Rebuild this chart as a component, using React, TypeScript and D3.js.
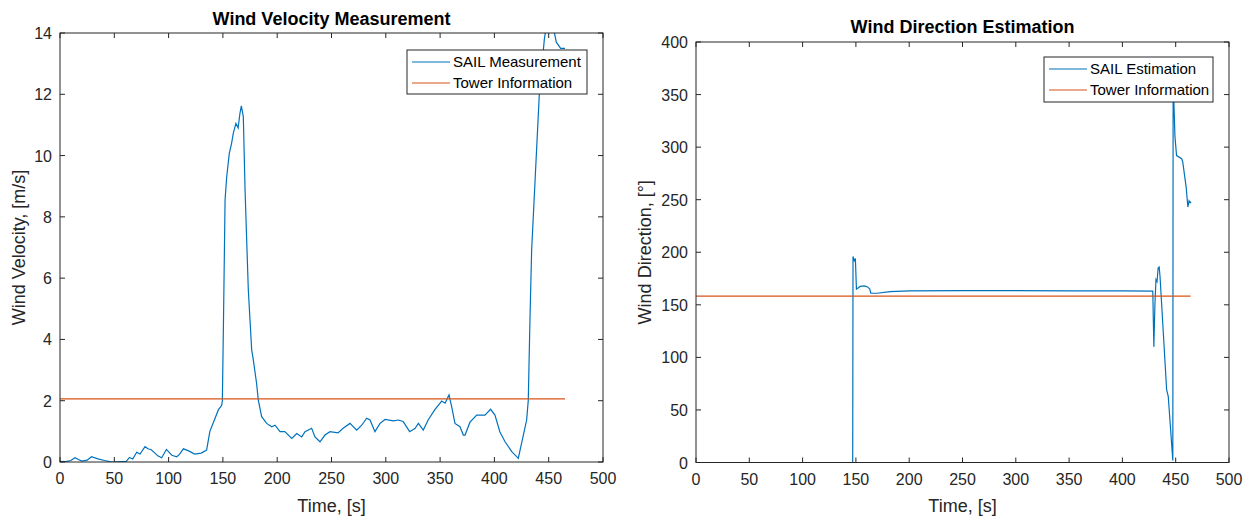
import React from 'react';
import * as d3 from 'd3';

// wind velocity
const velTime = [0, 5, 10, 13.8, 17, 20, 25, 29, 35, 41, 48, 55, 61, 64, 67, 70.6, 73.7, 78.3, 81, 84, 87.5, 90, 93.6, 98, 103, 107.5, 110, 113.6, 118, 124, 130, 135, 138, 141.6, 145.8, 148.9, 149.5, 150.5, 152, 153.5, 155.9, 158, 159.6, 162, 164, 165.7, 167, 168.8, 170.4, 173.4, 176.5, 178, 181, 182.6, 185.7, 190.3, 195, 198, 202.6, 207, 213.4, 218, 222.6, 225.6, 231.7, 234.8, 239.4, 244, 248.6, 256, 260.7, 267, 273.2, 277.8, 282.4, 285.5, 290, 294.7, 299.3, 307, 311.6, 316, 322, 327, 330, 334.5, 339, 345, 348.3, 351.5, 354.6, 358.2, 360.7, 363.7, 368.3, 371.4, 373, 377.5, 383.7, 391.3, 396.5, 400.5, 405, 409.8, 416, 422, 425, 429.7, 431.2, 432.8, 434.3, 441.4, 446, 449, 453, 457, 461, 465];
const velValue = [0.02, 0.01, 0.05, 0.14, 0.08, 0.03, 0.06, 0.17, 0.1, 0.05, 0.0, 0.01, 0.02, 0.15, 0.1, 0.32, 0.26, 0.5, 0.43, 0.4, 0.29, 0.2, 0.14, 0.41, 0.22, 0.17, 0.25, 0.43, 0.37, 0.26, 0.29, 0.39, 1.0, 1.32, 1.7, 1.85, 2.0, 4.5, 8.55, 9.31, 10.07, 10.4, 10.73, 11.05, 10.9, 11.38, 11.62, 11.27, 8.88, 5.61, 3.66, 3.33, 2.57, 2.02, 1.48, 1.26, 1.15, 1.2, 0.99, 0.99, 0.77, 0.93, 0.82, 0.99, 1.1, 0.82, 0.66, 0.88, 0.99, 0.95, 1.1, 1.26, 1.04, 1.2, 1.43, 1.37, 0.99, 1.26, 1.39, 1.34, 1.37, 1.32, 0.99, 1.1, 1.26, 1.04, 1.37, 1.7, 1.85, 1.99, 1.92, 2.19, 1.8, 1.26, 1.15, 0.88, 0.88, 1.3, 1.53, 1.53, 1.72, 1.53, 0.99, 0.66, 0.34, 0.12, 0.61, 1.37, 2.02, 4.74, 6.92, 12.03, 13.8, 14.5, 14.4, 13.7, 13.5, 13.5];
const towerVelTime = [0, 465];
const towerVelValue = [2.06, 2.06];

// wind direction
const dirTime = [0, 147, 147.3, 148.5, 149.5, 150.5, 152, 154, 158, 161, 163, 164, 170, 182, 200, 250, 300, 350, 400, 428.5, 429.5, 430.5, 431.5, 432.5, 433.5, 434.5, 435.3, 438.4, 441.5, 443, 447.3, 447.6, 449.3, 450.8, 455.6, 456.6, 459.8, 461.4, 462.5, 463.5, 464.5];
const dirValue = [0, 0, 196, 192, 194, 165, 166, 167.5, 168, 167, 165, 161, 161, 162.5, 163.3, 163.5, 163.5, 163.3, 163.2, 163, 110, 150, 174, 172, 185, 186, 177, 123, 69, 63, 2, 365, 310, 292, 289, 286, 262, 243, 249, 247, 248];
const towerDirTime = [0, 464];
const towerDirValue = [158.3, 158.3];

const timeTicks = [0, 50, 100, 150, 200, 250, 300, 350, 400, 450, 500];
const velTicks = [0, 2, 4, 6, 8, 10, 12, 14];
const dirTicks = [0, 50, 100, 150, 200, 250, 300, 350, 400];

const BLUE = '#0072BD';
const ORANGE = '#D95319';
const INK = '#262626';
const FONT = '"Liberation Sans", Arial, Helvetica, sans-serif';

type PanelProps = {
  id: string;
  box: { left: number; top: number; right: number; bottom: number };
  yMax: number;
  yTicks: number[];
  title: string;
  titleY: number;
  yLabel: string;
  yLabelX: number;
  series: { x: number[]; y: number[] };
  tower: { x: number[]; y: number[] };
  legend: { x: number; y: number; w: number; h: number; names: string[] };
};

const Panel = ({ id, box, yMax, yTicks, title, titleY, yLabel, yLabelX, series, tower, legend }: PanelProps) => {
  const x = d3.scaleLinear().domain([0, 500]).range([box.left, box.right]);
  const y = d3.scaleLinear().domain([0, yMax]).range([box.bottom, box.top]);
  const path = (xs: number[], ys: number[]) =>
    d3
      .line<number>()
      .x((_, i) => x(xs[i]))
      .y((_, i) => y(ys[i]))(ys) || '';
  const cx = (box.left + box.right) / 2;
  const cy = (box.top + box.bottom) / 2;
  const tl = 5;

  return (
    <g>
      <defs>
        <clipPath id={id}>
          <rect x={box.left} y={box.top} width={box.right - box.left} height={box.bottom - box.top} />
        </clipPath>
      </defs>

      <g clipPath={`url(#${id})`} fill="none" strokeWidth={1.2}>
        <path d={path(series.x, series.y)} stroke={BLUE} />
        <path d={path(tower.x, tower.y)} stroke={ORANGE} />
      </g>

      {/* box with inward ticks on all four sides */}
      <rect x={box.left} y={box.top} width={box.right - box.left} height={box.bottom - box.top}
        fill="none" stroke={INK} strokeWidth={1} />
      {timeTicks.map((t) => (
        <g key={'x' + t}>
          <line x1={x(t)} x2={x(t)} y1={box.bottom} y2={box.bottom - tl} stroke={INK} />
          <line x1={x(t)} x2={x(t)} y1={box.top} y2={box.top + tl} stroke={INK} />
          <text x={x(t)} y={box.bottom + 22} textAnchor="middle" fontSize={16} fill={INK}>{t}</text>
        </g>
      ))}
      {yTicks.map((t) => (
        <g key={'y' + t}>
          <line x1={box.left} x2={box.left + tl} y1={y(t)} y2={y(t)} stroke={INK} />
          <line x1={box.right} x2={box.right - tl} y1={y(t)} y2={y(t)} stroke={INK} />
          <text x={box.left - 8} y={y(t) + 6} textAnchor="end" fontSize={16} fill={INK}>{t}</text>
        </g>
      ))}

      <text x={cx} y={titleY} textAnchor="middle" fontSize={18} fontWeight="bold" fill="#000">{title}</text>
      <text x={cx} y={512} textAnchor="middle" fontSize={18} fill={INK}>Time, [s]</text>
      <text transform={`translate(${yLabelX},${cy}) rotate(-90)`} textAnchor="middle" fontSize={18} fill={INK}>{yLabel}</text>

      {/* legend (opaque, covers the lines beneath) */}
      <rect x={legend.x} y={legend.y} width={legend.w} height={legend.h} fill="#fff" stroke={INK} strokeWidth={1} />
      {legend.names.map((n, i) => {
        const ry = legend.y + 12 + i * 21;
        return (
          <g key={n}>
            <line x1={legend.x + 5} x2={legend.x + 43} y1={ry} y2={ry} stroke={i === 0 ? BLUE : ORANGE} strokeWidth={1.2} />
            <text x={legend.x + 46} y={ry + 5} fontSize={15} fill="#000">{n}</text>
          </g>
        );
      })}
    </g>
  );
};

export default function App() {
  return (
    <svg width={1251} height={518} style={{ position: 'absolute', left: 0, top: 0, background: '#fff' }} fontFamily={FONT}>
      <rect width={1251} height={518} fill="#fff" />
      <Panel
        id="clipVel"
        box={{ left: 60, top: 33, right: 603, bottom: 462 }}
        yMax={14}
        yTicks={velTicks}
        title="Wind Velocity Measurement"
        titleY={25}
        yLabel="Wind Velocity, [m/s]"
        yLabelX={25}
        series={{ x: velTime, y: velValue }}
        tower={{ x: towerVelTime, y: towerVelValue }}
        legend={{ x: 407, y: 50, w: 180, h: 44, names: ['SAIL Measurement', 'Tower Information'] }}
      />
      <Panel
        id="clipDir"
        box={{ left: 696, top: 42, right: 1229, bottom: 462.5 }}
        yMax={400}
        yTicks={dirTicks}
        title="Wind Direction Estimation"
        titleY={33}
        yLabel="Wind Direction, [°]"
        yLabelX={651}
        series={{ x: dirTime, y: dirValue }}
        tower={{ x: towerDirTime, y: towerDirValue }}
        legend={{ x: 1044, y: 57, w: 169, h: 45, names: ['SAIL Estimation', 'Tower Information'] }}
      />
    </svg>
  );
}
